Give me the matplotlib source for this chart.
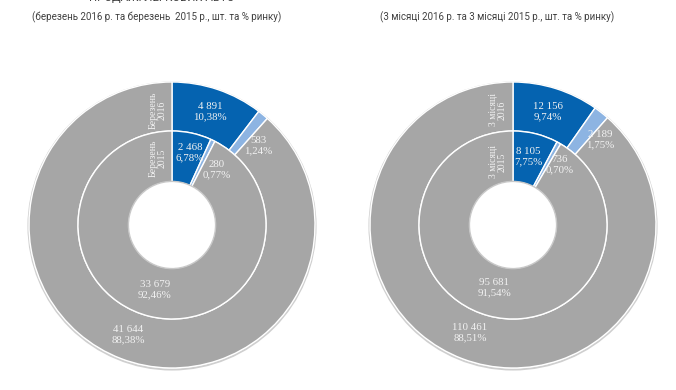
import matplotlib.pyplot as plt
from matplotlib.patches import Circle

# data
outer_left = [4891, 583, 41644]
outer_left_pct = ['10,38%', '1,24%', '88,38%']
inner_left = [2468, 280, 33679]
inner_left_pct = ['6,78%', '0,77%', '92,46%']

outer_right = [12156, 2189, 110461]
outer_right_pct = ['9,74%', '1,75%', '88,51%']
inner_right = [8105, 736, 95681]
inner_right_pct = ['7,75%', '0,70%', '91,54%']

colors = ['#0563b0', '#8db4e2', '#a6a6a6']

W, H = 676, 390
fig = plt.figure(figsize=(W / 100, H / 100), dpi=100)
ax = fig.add_axes([0, 0, 1, 1])
ax.set_xlim(0, W)
ax.set_ylim(0, H)
ax.set_aspect('equal')
ax.axis('off')


def fmt(v):
    return '{:,}'.format(v).replace(',', ' ')


def donut(cx, cy, outer, inner, outer_pct, inner_pct, outer_pos, inner_pos, tags, tag_pos):
    R, r_mid, r_hole = 143, 94, 43
    # soft shadow on the rims
    ax.add_patch(Circle((cx, cy - 1), R + 0.5, facecolor='none', edgecolor='#cfcfcf', lw=1.5, zorder=0))
    ax.pie(outer, colors=colors, radius=R, center=(cx, cy), startangle=90, counterclock=False,
           wedgeprops=dict(width=R - r_mid, edgecolor='white', linewidth=1.0), frame=True)
    ax.pie(inner, colors=colors, radius=r_mid, center=(cx, cy), startangle=90, counterclock=False,
           wedgeprops=dict(width=r_mid - r_hole, edgecolor='white', linewidth=1.0), frame=True)
    ax.add_patch(Circle((cx, cy), r_hole + 0.6, facecolor='none', edgecolor='#c8c8c8', lw=1.0, zorder=5))
    for v, p, (x, y) in zip(outer + inner, outer_pct + inner_pct, outer_pos + inner_pos):
        ax.text(x, H - y, fmt(v) + '\n' + p, ha='center', va='center', color='#f2f2f2',
                fontsize=7.8, family='Liberation Serif', linespacing=1.2, zorder=6)
    for t, (x, y) in zip(tags, tag_pos):
        ax.text(x, H - y, t, ha='center', va='center', rotation=90, color='#f2f2f2',
                fontsize=7.0, family='Liberation Serif', linespacing=1.0, zorder=6)


donut(172, H - 225, outer_left, inner_left, outer_left_pct, inner_left_pct,
      [(210, 112), (258, 146), (128, 335)],
      [(190, 153), (217, 170), (155, 290)],
      ['Березень\n2016', 'Березень\n2015'], [(158, 110), (158, 158)])

donut(513, H - 225, outer_right, inner_right, outer_right_pct, inner_right_pct,
      [(548, 112), (600, 140), (470, 333)],
      [(528, 157), (560, 165), (494, 288)],
      ['3 місяці\n2016', '3 місяці\n2015'], [(498, 110), (498, 162)])

ax.set_xlim(0, W)
ax.set_ylim(0, H)

# titles (cut at the top edge, as in the source)
ax.text(162, H + 2, 'ПРОДАЖІ ЛЕГКОВИХ АВТО', ha='center', va='center', fontsize=8.2,
        family='Roboto', color='#404040')
ax.text(157, H - 17, '(березень 2016 р. та березень  2015 р., шт. та % ринку)', ha='center',
        va='center', fontsize=7.0, family='Roboto', color='#404040')
ax.text(497, H - 17, '(3 місяці 2016 р. та 3 місяці 2015 р., шт. та % ринку)', ha='center',
        va='center', fontsize=7.0, family='Roboto', color='#404040')

fig.savefig('out.png', dpi=100)
